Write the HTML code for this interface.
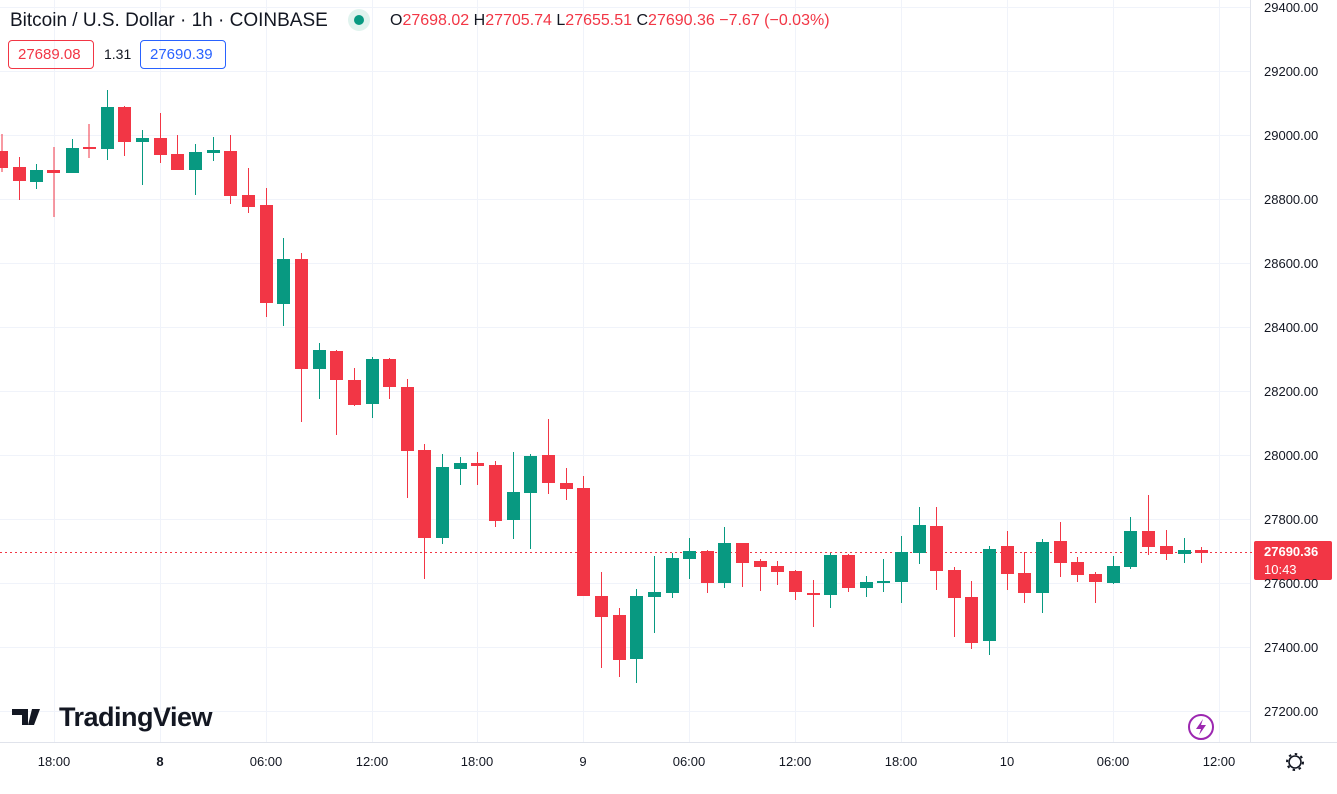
<!DOCTYPE html>
<html><head><meta charset="utf-8"><style>
body{margin:0;width:1337px;height:794px;background:#fff;overflow:hidden;font-family:"Liberation Sans",sans-serif;position:relative}
.t{position:absolute;white-space:nowrap}
.pl{position:absolute;right:0;width:84px;text-align:left;left:1264px;font-size:13px;color:#131722}
.tl{position:absolute;top:754px;font-size:13px;color:#131722;transform:translateX(-50%)}
.bx{position:absolute;top:40px;height:27px;line-height:27px;border-radius:4px;font-size:15px;padding:0 9px}
</style></head><body>
<svg width="1337" height="794" style="position:absolute;left:0;top:0">
<g stroke="#f0f3fa" stroke-width="1">
<line x1="0" y1="7.5" x2="1250" y2="7.5"/><line x1="0" y1="71.5" x2="1250" y2="71.5"/><line x1="0" y1="135.5" x2="1250" y2="135.5"/><line x1="0" y1="199.5" x2="1250" y2="199.5"/><line x1="0" y1="263.5" x2="1250" y2="263.5"/><line x1="0" y1="327.5" x2="1250" y2="327.5"/><line x1="0" y1="391.5" x2="1250" y2="391.5"/><line x1="0" y1="455.5" x2="1250" y2="455.5"/><line x1="0" y1="519.5" x2="1250" y2="519.5"/><line x1="0" y1="583.5" x2="1250" y2="583.5"/><line x1="0" y1="647.5" x2="1250" y2="647.5"/><line x1="0" y1="711.5" x2="1250" y2="711.5"/>
<line x1="54.5" y1="0" x2="54.5" y2="742"/><line x1="160.5" y1="0" x2="160.5" y2="742"/><line x1="266.5" y1="0" x2="266.5" y2="742"/><line x1="372.5" y1="0" x2="372.5" y2="742"/><line x1="477.5" y1="0" x2="477.5" y2="742"/><line x1="583.5" y1="0" x2="583.5" y2="742"/><line x1="689.5" y1="0" x2="689.5" y2="742"/><line x1="795.5" y1="0" x2="795.5" y2="742"/><line x1="901.5" y1="0" x2="901.5" y2="742"/><line x1="1007.5" y1="0" x2="1007.5" y2="742"/><line x1="1113.5" y1="0" x2="1113.5" y2="742"/><line x1="1219.5" y1="0" x2="1219.5" y2="742"/>
</g>
<line x1="1250.5" y1="0" x2="1250.5" y2="742" stroke="#e0e3eb"/>
<line x1="0" y1="742.5" x2="1337" y2="742.5" stroke="#e0e3eb"/>
<line x1="0" y1="552.5" x2="1252" y2="552.5" stroke="#f23645" stroke-dasharray="2,3"/>
<g id="c">
<g fill="#f23645">
<rect x="1.5" y="134" width="1" height="38"/><rect x="-5" y="151" width="13" height="17"/>
<rect x="19" y="157" width="1" height="43"/><rect x="13" y="167" width="13" height="14"/>
<rect x="53.5" y="147" width="1" height="70"/><rect x="47" y="170" width="13" height="3"/>
<rect x="88.5" y="124" width="1" height="34"/><rect x="83" y="147" width="13" height="2"/>
<rect x="124" y="106" width="1" height="50"/><rect x="118" y="107" width="13" height="35"/>
<rect x="160" y="113" width="1" height="50"/><rect x="154" y="138" width="13" height="17"/>
<rect x="177" y="135" width="1" height="35"/><rect x="171" y="154" width="13" height="16"/>
<rect x="230" y="135" width="1" height="69"/><rect x="224" y="151" width="13" height="45"/>
<rect x="248" y="168" width="1" height="45"/><rect x="242" y="195" width="13" height="12"/>
<rect x="266" y="188" width="1" height="129"/><rect x="260" y="205" width="13" height="98"/>
<rect x="301" y="253" width="1" height="169"/><rect x="295" y="259" width="13" height="110"/>
<rect x="336" y="350" width="1" height="85"/><rect x="330" y="351" width="13" height="29"/>
<rect x="354" y="368" width="1" height="38"/><rect x="348" y="380" width="13" height="25"/>
<rect x="389" y="358" width="1" height="41"/><rect x="383" y="359" width="13" height="28"/>
<rect x="407" y="379" width="1" height="119"/><rect x="401" y="387" width="13" height="64"/>
<rect x="424" y="444" width="1" height="135"/><rect x="418" y="450" width="13" height="88"/>
<rect x="477" y="452" width="1" height="33"/><rect x="471" y="463" width="13" height="3"/>
<rect x="495" y="461" width="1" height="66"/><rect x="489" y="465" width="13" height="56"/>
<rect x="548" y="419" width="1" height="75"/><rect x="542" y="455" width="13" height="28"/>
<rect x="566" y="468" width="1" height="32"/><rect x="560" y="483" width="13" height="6"/>
<rect x="583" y="476" width="1" height="120"/><rect x="577" y="488" width="13" height="108"/>
<rect x="601" y="572" width="1" height="96"/><rect x="595" y="596" width="13" height="21"/>
<rect x="619" y="608" width="1" height="69"/><rect x="613" y="615" width="13" height="45"/>
<rect x="707" y="550" width="1" height="43"/><rect x="701" y="551" width="13" height="32"/>
<rect x="742" y="543" width="1" height="44"/><rect x="736" y="543" width="13" height="20"/>
<rect x="760" y="559" width="1" height="32"/><rect x="754" y="561" width="13" height="6"/>
<rect x="777" y="561" width="1" height="24"/><rect x="771" y="566" width="13" height="6"/>
<rect x="795" y="570" width="1" height="30"/><rect x="789" y="571" width="13" height="21"/>
<rect x="813" y="580" width="1" height="47"/><rect x="807" y="593" width="13" height="2"/>
<rect x="848" y="554" width="1" height="38"/><rect x="842" y="555" width="13" height="33"/>
<rect x="936" y="507" width="1" height="83"/><rect x="930" y="526" width="13" height="45"/>
<rect x="954" y="567" width="1" height="70"/><rect x="948" y="570" width="13" height="28"/>
<rect x="971" y="581" width="1" height="68"/><rect x="965" y="597" width="13" height="46"/>
<rect x="1007" y="531" width="1" height="59"/><rect x="1001" y="546" width="13" height="28"/>
<rect x="1024" y="552" width="1" height="51"/><rect x="1018" y="573" width="13" height="20"/>
<rect x="1060" y="522" width="1" height="55"/><rect x="1054" y="541" width="13" height="22"/>
<rect x="1077" y="557" width="1" height="25"/><rect x="1071" y="562" width="13" height="13"/>
<rect x="1095" y="572" width="1" height="31"/><rect x="1089" y="574" width="13" height="8"/>
<rect x="1148" y="495" width="1" height="60"/><rect x="1142" y="531" width="13" height="16"/>
<rect x="1166" y="530" width="1" height="30"/><rect x="1160" y="546" width="13" height="8"/>
<rect x="1201" y="547" width="1" height="16"/><rect x="1195" y="550" width="13" height="3"/>
</g>
<g fill="#089981">
<rect x="36" y="164" width="1" height="25"/><rect x="30" y="170" width="13" height="12"/>
<rect x="72" y="139" width="1" height="34"/><rect x="66" y="148" width="13" height="25"/>
<rect x="107" y="90" width="1" height="70"/><rect x="101" y="107" width="13" height="42"/>
<rect x="142" y="130" width="1" height="55"/><rect x="136" y="138" width="13" height="4"/>
<rect x="195" y="144" width="1" height="51"/><rect x="189" y="152" width="13" height="18"/>
<rect x="213" y="137" width="1" height="24"/><rect x="207" y="150" width="13" height="3"/>
<rect x="283" y="238" width="1" height="88"/><rect x="277" y="259" width="13" height="45"/>
<rect x="319" y="343" width="1" height="56"/><rect x="313" y="350" width="13" height="19"/>
<rect x="372" y="357" width="1" height="61"/><rect x="366" y="359" width="13" height="45"/>
<rect x="442" y="454" width="1" height="90"/><rect x="436" y="467" width="13" height="71"/>
<rect x="460" y="457" width="1" height="28"/><rect x="454" y="463" width="13" height="6"/>
<rect x="513" y="452" width="1" height="87"/><rect x="507" y="492" width="13" height="28"/>
<rect x="530" y="454" width="1" height="95"/><rect x="524" y="456" width="13" height="37"/>
<rect x="636" y="589" width="1" height="94"/><rect x="630" y="596" width="13" height="63"/>
<rect x="654" y="556" width="1" height="77"/><rect x="648" y="592" width="13" height="5"/>
<rect x="672" y="553" width="1" height="45"/><rect x="666" y="558" width="13" height="35"/>
<rect x="689" y="538" width="1" height="41"/><rect x="683" y="551" width="13" height="8"/>
<rect x="724" y="527" width="1" height="61"/><rect x="718" y="543" width="13" height="40"/>
<rect x="830" y="553" width="1" height="55"/><rect x="824" y="555" width="13" height="40"/>
<rect x="866" y="576" width="1" height="21"/><rect x="860" y="582" width="13" height="6"/>
<rect x="883" y="559" width="1" height="33"/><rect x="877" y="581" width="13" height="2"/>
<rect x="901" y="536" width="1" height="67"/><rect x="895" y="552" width="13" height="30"/>
<rect x="919" y="507" width="1" height="57"/><rect x="913" y="525" width="13" height="28"/>
<rect x="989" y="546" width="1" height="109"/><rect x="983" y="549" width="13" height="92"/>
<rect x="1042" y="539" width="1" height="74"/><rect x="1036" y="542" width="13" height="51"/>
<rect x="1113" y="556" width="1" height="28"/><rect x="1107" y="566" width="13" height="17"/>
<rect x="1130" y="517" width="1" height="52"/><rect x="1124" y="531" width="13" height="36"/>
<rect x="1184" y="538" width="1" height="25"/><rect x="1178" y="550" width="13" height="4"/>
</g>
</g>
<rect x="1254" y="541" width="78" height="39" rx="2" fill="#f23645"/>
<circle cx="359" cy="20" r="11" fill="#e0f3ee"/><circle cx="359" cy="20" r="5" fill="#089981"/>
<circle cx="1201" cy="727" r="12" fill="none" stroke="#9c27b0" stroke-width="2"/>
<path d="M1203 719 L1196 729 L1201 729 L1199 735 L1206 725 L1201 725 Z" fill="#9c27b0"/>
<circle cx="1295" cy="762" r="6" fill="none" stroke="#131722" stroke-width="1.6"/>
<circle cx="1295" cy="762" r="8" fill="none" stroke="#131722" stroke-width="2" stroke-dasharray="2.5,3.7"/>
<path d="M12 709h16v16h-6v-10h-10z M32 709h8l-6 16h-6z" fill="#131722"/>
</svg>
<div class="t" style="left:10px;top:10px;font-size:19px;color:#131722">Bitcoin / U.S. Dollar · 1h · COINBASE</div>
<div class="t" style="left:390px;top:12px;font-size:16px;color:#f23645"><span style="color:#131722">O</span>27698.02 <span style="color:#131722">H</span>27705.74 <span style="color:#131722">L</span>27655.51 <span style="color:#131722">C</span>27690.36 −7.67 (−0.03%)</div>
<div class="bx" style="left:8px;width:66px;border:1px solid #f23645;color:#f23645">27689.08</div>
<div class="t" style="left:104px;top:46px;font-size:14px;color:#131722">1.31</div>
<div class="bx" style="left:140px;width:66px;border:1px solid #2962ff;color:#2962ff">27690.39</div>
<div class="t" style="left:59px;top:702px;font-size:27px;font-weight:bold;color:#131722;letter-spacing:-0.5px">TradingView</div>
<div class="pl" style="top:0px">29400.00</div>
<div class="pl" style="top:64px">29200.00</div>
<div class="pl" style="top:128px">29000.00</div>
<div class="pl" style="top:192px">28800.00</div>
<div class="pl" style="top:256px">28600.00</div>
<div class="pl" style="top:320px">28400.00</div>
<div class="pl" style="top:384px">28200.00</div>
<div class="pl" style="top:448px">28000.00</div>
<div class="pl" style="top:512px">27800.00</div>
<div class="pl" style="top:576px">27600.00</div>
<div class="pl" style="top:640px">27400.00</div>
<div class="pl" style="top:704px">27200.00</div>
<div class="t" style="left:1264px;top:544px;font-size:13px;color:#fff;font-weight:bold">27690.36</div>
<div class="t" style="left:1264px;top:562px;font-size:13px;color:#fff">10:43</div>
<div class="tl" style="left:54px">18:00</div>
<div class="tl" style="left:160px;font-weight:bold">8</div>
<div class="tl" style="left:266px">06:00</div>
<div class="tl" style="left:372px">12:00</div>
<div class="tl" style="left:477px">18:00</div>
<div class="tl" style="left:583px">9</div>
<div class="tl" style="left:689px">06:00</div>
<div class="tl" style="left:795px">12:00</div>
<div class="tl" style="left:901px">18:00</div>
<div class="tl" style="left:1007px">10</div>
<div class="tl" style="left:1113px">06:00</div>
<div class="tl" style="left:1219px">12:00</div>
</body></html>
